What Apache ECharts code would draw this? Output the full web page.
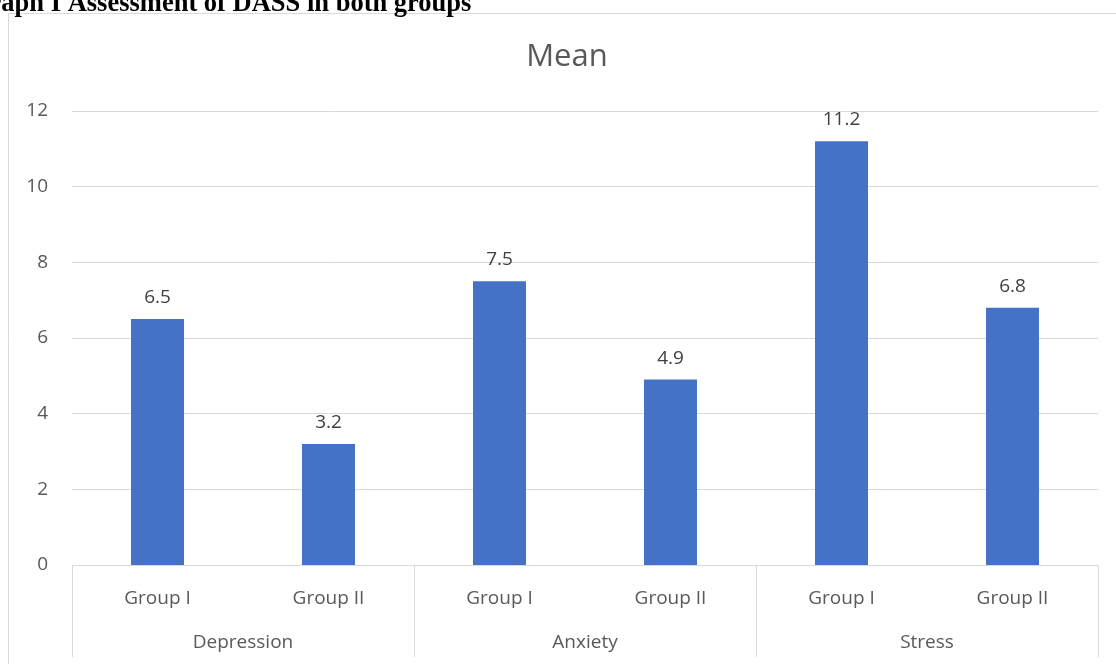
<!DOCTYPE html>
<html>
<head>
<meta charset="utf-8">
<script src="https://cdn.jsdelivr.net/npm/echarts@6/dist/echarts.min.js"></script>
<style>
  html, body { margin: 0; padding: 0; background: #fff; }
  #chart { width: 1116px; height: 664px; }
</style>
</head>
<body>
<div id="chart"></div>
<script>
// Mean DASS scores per domain and group
const groups = ['Group I', 'Group II', 'Group I', 'Group II', 'Group I', 'Group II'];
const domains = ['Depression', 'Anxiety', 'Stress'];
const means = [6.5, 3.2, 7.5, 4.9, 11.2, 6.8];
const yTicks = { min: 0, max: 12, interval: 2 };

const font = '"Open Sans", "Noto Sans", sans-serif';
const grey = '#595959';
const lineGrey = '#d9d9d9';

const chart = echarts.init(document.getElementById('chart'), null, { renderer: 'canvas' });
chart.setOption({
  animation: false,
  backgroundColor: '#fff',
  title: {
    text: 'Mean',
    left: 562,
    top: 37,
    textAlign: 'center',
    textStyle: { fontFamily: font, fontSize: 31, fontWeight: 'normal', color: grey }
  },
  graphic: [
    {
      type: 'rect',
      shape: { x: 8.5, y: 13.5, width: 1200, height: 700 },
      style: { fill: 'none', stroke: lineGrey, lineWidth: 1 },
      silent: true
    },
    {
      type: 'text',
      left: -31,
      top: -9,
      style: {
        text: 'Graph I Assessment of DASS in both groups',
        font: 'bold 26.5px "Liberation Serif", "Times New Roman", serif',
        fill: '#000'
      }
    }
  ],
  grid: { left: 72, right: 18, top: 111, bottom: 99 },
  xAxis: [
    {
      type: 'category',
      data: groups,
      position: 'bottom',
      axisLine: { show: true, lineStyle: { color: lineGrey, width: 1 } },
      axisTick: { show: false },
      axisLabel: { fontFamily: font, fontSize: 19, color: grey, margin: 24 }
    },
    {
      type: 'category',
      data: domains,
      position: 'bottom',
      axisLine: { show: false },
      axisTick: { show: true, length: 92, alignWithLabel: false, lineStyle: { color: lineGrey, width: 1 } },
      axisLabel: { fontFamily: font, fontSize: 19, color: grey, margin: 68 },
      splitLine: { show: false }
    }
  ],
  yAxis: {
    type: 'value',
    min: yTicks.min,
    max: yTicks.max,
    interval: yTicks.interval,
    axisLine: { show: false },
    axisTick: { show: false },
    axisLabel: { fontFamily: font, fontSize: 19, color: grey, margin: 24 },
    splitLine: { lineStyle: { color: lineGrey, width: 1 } }
  },
  series: [
    {
      type: 'bar',
      xAxisIndex: 0,
      data: means,
      barWidth: '31%',
      itemStyle: { color: '#4472c4' },
      label: {
        show: true,
        position: 'top',
        distance: 12,
        fontFamily: font,
        fontSize: 19,
        color: '#404040'
      }
    }
  ]
});
</script>
</body>
</html>
